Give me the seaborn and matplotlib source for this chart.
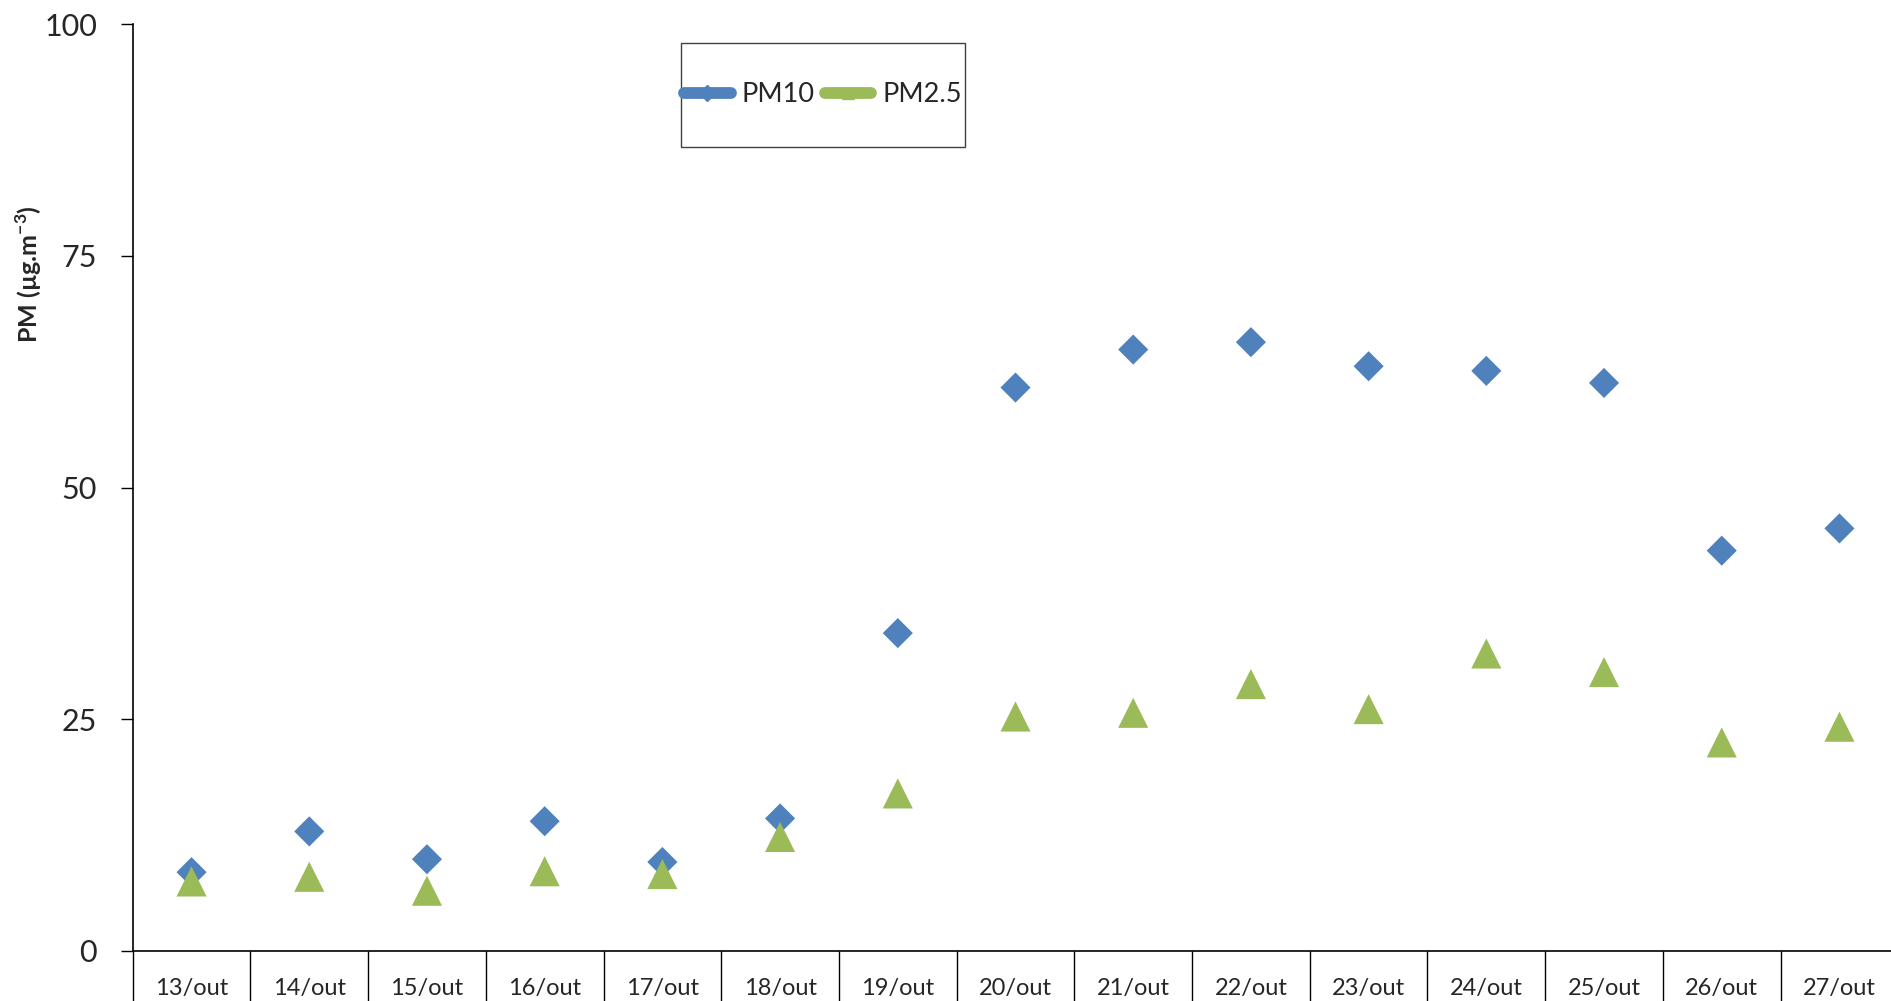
import numpy as np
import pandas as pd
import seaborn as sns
import matplotlib
matplotlib.use("Agg")
import matplotlib.pyplot as plt
from matplotlib.path import Path
from matplotlib.lines import Line2D
from matplotlib.patches import Rectangle

# data
dates = ['13/out', '14/out', '15/out', '16/out', '17/out', '18/out', '19/out', '20/out',
         '21/out', '22/out', '23/out', '24/out', '25/out', '26/out', '27/out']
pm10 = [8.5, 12.9, 9.9, 14.0, 9.6, 14.3, 34.3, 60.8, 64.9, 65.7, 63.1, 62.6, 61.3, 43.2, 45.6]
pm25 = [7.5, 8.0, 6.5, 8.6, 8.3, 12.3, 17.0, 25.3, 25.7, 28.8, 26.1, 32.1, 30.1, 22.5, 24.2]
series_names = ['PM10', 'PM2.5']
y_ticks = [0, 25, 50, 75, 100]

BLUE = '#4F81BD'
GREEN = '#9BBB59'


def make_df():
    df = pd.concat([
        pd.DataFrame({'date': dates, 'value': pm10, 'series': 'PM10'}),
        pd.DataFrame({'date': dates, 'value': pm25, 'series': 'PM2.5'}),
    ], ignore_index=True)
    return df


def make_plot(df):
    sns.set_theme(style='white')
    plt.rcParams['font.family'] = ['Lato', 'DejaVu Sans']

    diamond = Path([(0, 0.5), (0.5, 0), (0, -0.5), (-0.5, 0), (0, 0.5)],
                   [Path.MOVETO, Path.LINETO, Path.LINETO, Path.LINETO, Path.CLOSEPOLY])
    triangle = Path([(-0.5, -0.5), (0, 0.5), (0.5, -0.5), (-0.5, -0.5)],
                    [Path.MOVETO, Path.LINETO, Path.LINETO, Path.CLOSEPOLY])

    fig = plt.figure(figsize=(18.91, 10.01), dpi=100)
    ax = fig.add_axes([132.7 / 1891, 0.0500, 1765.6 / 1891, 0.9257])

    sns.scatterplot(data=df, x='date', y='value', hue='series', style='series',
                    palette={'PM10': BLUE, 'PM2.5': GREEN},
                    markers={'PM10': diamond, 'PM2.5': triangle},
                    s=470, linewidth=0, legend=False, ax=ax, zorder=3)

    ax.set_xlim(-0.5, len(dates) - 0.5)
    ax.set_ylim(0, 100)
    ax.set_yticks(y_ticks)
    ax.set_yticklabels([str(t) for t in y_ticks], fontsize=22)

    # category separators below the axis, labels in between
    ax.set_xticks(np.arange(len(dates) + 1) - 0.5)
    ax.set_xticklabels([''] * (len(dates) + 1))
    ax.set_xticks(np.arange(len(dates)), minor=True)
    ax.set_xticklabels(dates, minor=True, fontsize=17)
    ax.tick_params(axis='x', which='major', direction='out', length=45, width=1.0,
                   color='black', bottom=True)
    ax.tick_params(axis='x', which='minor', length=0, pad=19.5, bottom=True)
    ax.tick_params(axis='y', direction='out', length=8.6, width=1.0, pad=17, color='black', left=True)

    for side in ['top', 'right']:
        ax.spines[side].set_visible(False)
    for side in ['left', 'bottom']:
        ax.spines[side].set_color('black')
        ax.spines[side].set_linewidth(1.2)

    ax.set_xlabel('')
    ax.set_ylabel('')
    fig.text(29 / 1891, 1 - 274 / 1001, 'PM (µg.m$^{\\mathregular{-3}}$)', rotation=90,
             ha='center', va='center', fontsize=18, fontweight='bold')

    # legend box like the original
    fig.patches.append(Rectangle((681 / 1891, 1 - 147 / 1001), 284 / 1891, 104 / 1001,
                                 transform=fig.transFigure, fill=False,
                                 edgecolor='#404040', linewidth=1.0))
    handles = [
        Line2D([], [], color=BLUE, lw=8.5, solid_capstyle='round', marker='D', markersize=8),
        Line2D([], [], color=GREEN, lw=8.5, solid_capstyle='round', marker='^', markersize=9),
    ]
    fig.legend(handles, series_names, loc='center', bbox_to_anchor=(823 / 1891, 1 - 95 / 1001),
               ncol=2, frameon=False, fontsize=19.5, handlelength=1.7, handletextpad=0.4,
               columnspacing=0.4, borderpad=0, borderaxespad=0)

    plt.savefig('out.png', dpi=100)
    plt.close()


def main():
    df = make_df()
    make_plot(df)


if __name__ == '__main__':
    main()
